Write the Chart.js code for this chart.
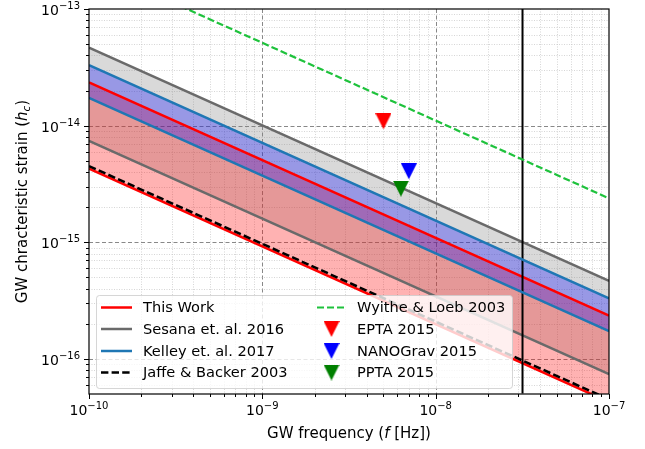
<!DOCTYPE html>
<html>
<head>
<meta charset="utf-8">
<script src="https://cdn.jsdelivr.net/npm/chart.js@4.4.0/dist/chart.umd.min.js"></script>
<style>
  html, body { margin: 0; padding: 0; background: #fff; }
  canvas { display: block; }
</style>
</head>
<body>
<canvas id="gw-strain" width="645" height="449"></canvas>
<script>
// axis limits and tick decades
var xRange = [1e-10, 1e-7];
var yRange = [5.04e-17, 1e-13];
var xTickExps = [-10, -9, -8, -7];
var yTickExps = [-16, -15, -14, -13];

// every curve is h_c ~ f^(-2/3), given at the two ends of the band
var freqEnds = [1e-10, 1e-7];
var thisWorkHigh = [2.35e-14, 2.35e-16];
var thisWorkLow = [4.27e-15, 4.27e-17];
var kelleyHigh = [3.3e-14, 3.3e-16];
var kelleyLow = [1.73e-14, 1.73e-16];
var sesanaHigh = [4.66e-14, 4.66e-16];
var sesanaLow = [7.4e-15, 7.4e-17];
var jaffeBacker = [4.5e-15, 4.5e-17];
var wyitheLoeb = [2.38e-13, 2.38e-15];

// PTA upper limits
var ptaNames = ['EPTA 2015', 'NANOGrav 2015', 'PPTA 2015'];
var ptaFreq = [5.0e-9, 7.0e-9, 6.3e-9];
var ptaStrain = [1.09e-14, 4.06e-15, 2.88e-15];
var ptaColors = ['#ff0000', '#0000ff', '#008000'];

var oneYearFreq = 3.17e-8;

var legendCols = [
    ['This Work', 'Sesana et. al. 2016', 'Kelley et. al. 2017', 'Jaffe & Backer 2003'],
    ['Wyithe & Loeb 2003', 'EPTA 2015', 'NANOGrav 2015', 'PPTA 2015']
];

var FONT = '"DejaVu Sans", "Liberation Sans", sans-serif';

function pairs(ys) {
    return freqEnds.map(function (f, i) { return {x: f, y: ys[i]}; });
}

function triangle(color) {
    var c = document.createElement('canvas');
    c.width = 16;
    c.height = 16;
    var g = c.getContext('2d');
    g.fillStyle = color;
    g.beginPath();
    g.moveTo(0, 0);
    g.lineTo(16, 0);
    g.lineTo(8, 16);
    g.closePath();
    g.fill();
    return c;
}

function lineSet(label, ys, color, order, extra) {
    var ds = {
        label: label,
        data: pairs(ys),
        borderColor: color,
        borderWidth: 2.5,
        pointRadius: 0,
        fill: false,
        order: order
    };
    for (var k in extra) ds[k] = extra[k];
    return ds;
}

var datasets = [
    lineSet('This Work', thisWorkHigh, '#ff0000', 1),
    lineSet('', thisWorkLow, '#ff0000', 1, {fill: 0, backgroundColor: 'rgba(255,0,0,0.3)'}),
    lineSet('Kelley et. al. 2017', kelleyHigh, '#1f77b4', 0),
    lineSet('', kelleyLow, '#1f77b4', 0, {fill: 2, backgroundColor: 'rgba(0,0,255,0.3)'}),
    lineSet('Sesana et. al. 2016', sesanaHigh, '#6a6a6a', 2),
    lineSet('', sesanaLow, '#6a6a6a', 2, {fill: 4, backgroundColor: 'rgba(128,128,128,0.3)'}),
    lineSet('Jaffe & Backer 2003', jaffeBacker, '#000000', 0, {borderDash: [7.4, 3.2]}),
    lineSet('Wyithe & Loeb 2003', wyitheLoeb, '#1ec23c', 0, {borderDash: [7, 3], borderWidth: 2.2}),
    {
        label: '',
        data: [{x: oneYearFreq, y: yRange[0]}, {x: oneYearFreq, y: yRange[1]}],
        borderColor: '#000000',
        borderWidth: 2,
        pointRadius: 0,
        fill: false,
        order: 0
    }
];

ptaNames.forEach(function (name, i) {
    datasets.push({
        label: name,
        data: [{x: ptaFreq[i], y: ptaStrain[i]}],
        showLine: false,
        pointStyle: triangle(ptaColors[i]),
        pointRadius: 8,
        borderColor: ptaColors[i],
        backgroundColor: ptaColors[i],
        order: -1
    });
});

function drawPower(ctx, exp, x, y, align) {
    var base = '10';
    var sup = '\u2212' + Math.abs(exp);
    ctx.font = '14px ' + FONT;
    var wb = ctx.measureText(base).width;
    ctx.font = '10px ' + FONT;
    var ws = ctx.measureText(sup).width;
    var left = align === 'right' ? x - wb - ws : x - (wb + ws) / 2;
    ctx.textAlign = 'left';
    ctx.textBaseline = 'alphabetic';
    ctx.font = '14px ' + FONT;
    ctx.fillText(base, left, y);
    ctx.font = '10px ' + FONT;
    ctx.fillText(sup, left + wb, y - 6);
}

// runs of text with their own font and vertical shift, centred on x
function drawRuns(ctx, runs, x, y) {
    var total = 0;
    runs.forEach(function (r) {
        ctx.font = r.font;
        r.w = ctx.measureText(r.text).width;
        total += r.w;
    });
    var cx = x - total / 2;
    ctx.textAlign = 'left';
    ctx.textBaseline = 'alphabetic';
    runs.forEach(function (r) {
        ctx.font = r.font;
        ctx.fillText(r.text, cx, y + (r.dy || 0));
        cx += r.w;
    });
}

function minorValues(exps, range) {
    var out = [];
    for (var e = exps[0] - 1; e <= exps[exps.length - 1]; e++) {
        for (var m = 1; m < 10; m++) {
            var v = m * Math.pow(10, e);
            if (v >= range[0] * 0.999 && v <= range[1] * 1.001) out.push({v: v, major: m === 1});
        }
    }
    return out;
}

var axesPlugin = {
    id: 'mplAxes',
    beforeDraw: function (chart) {
        var ctx = chart.ctx, a = chart.chartArea;
        var xs = chart.scales.x, ys = chart.scales.y;
        ctx.save();
        minorValues(xTickExps, xRange).forEach(function (t) {
            var px = Math.round(xs.getPixelForValue(t.v)) + 0.5;
            if (px < a.left + 1 || px > a.right - 1) return;
            ctx.beginPath();
            ctx.lineWidth = t.major ? 1 : 0.7;
            ctx.strokeStyle = t.major ? '#888888' : '#c4c4c4';
            ctx.setLineDash(t.major ? [4, 2.5] : [1, 1.5]);
            ctx.moveTo(px, a.top);
            ctx.lineTo(px, a.bottom);
            ctx.stroke();
        });
        minorValues(yTickExps, yRange).forEach(function (t) {
            var py = Math.round(ys.getPixelForValue(t.v)) + 0.5;
            if (py < a.top + 1 || py > a.bottom - 1) return;
            ctx.beginPath();
            ctx.lineWidth = t.major ? 1 : 0.7;
            ctx.strokeStyle = t.major ? '#888888' : '#c4c4c4';
            ctx.setLineDash(t.major ? [4, 2.5] : [1, 1.5]);
            ctx.moveTo(a.left, py);
            ctx.lineTo(a.right, py);
            ctx.stroke();
        });
        ctx.restore();
    },
    afterDraw: function (chart) {
        var ctx = chart.ctx, a = chart.chartArea;
        var xs = chart.scales.x, ys = chart.scales.y;
        ctx.save();
        ctx.setLineDash([]);
        ctx.strokeStyle = '#000';
        ctx.lineWidth = 1.2;
        ctx.strokeRect(a.left, a.top, a.right - a.left, a.bottom - a.top);

        // tick marks
        ctx.lineWidth = 1;
        minorValues(xTickExps, xRange).forEach(function (t) {
            var px = Math.round(xs.getPixelForValue(t.v)) + 0.5;
            ctx.beginPath();
            ctx.moveTo(px, a.bottom);
            ctx.lineTo(px, a.bottom + (t.major ? 5 : 3));
            ctx.stroke();
        });
        minorValues(yTickExps, yRange).forEach(function (t) {
            var py = Math.round(ys.getPixelForValue(t.v)) + 0.5;
            ctx.beginPath();
            ctx.moveTo(a.left, py);
            ctx.lineTo(a.left - (t.major ? 5 : 3), py);
            ctx.stroke();
        });

        // tick labels
        ctx.fillStyle = '#000';
        xTickExps.forEach(function (e) {
            drawPower(ctx, e, xs.getPixelForValue(Math.pow(10, e)), 415, 'center');
        });
        yTickExps.forEach(function (e) {
            drawPower(ctx, e, a.left - 9, ys.getPixelForValue(Math.pow(10, e)) + 6, 'right');
        });

        // axis titles
        var nf = '15px ' + FONT, itf = 'italic 15px ' + FONT;
        drawRuns(ctx, [
            {text: 'GW frequency (', font: nf},
            {text: 'f', font: itf},
            {text: ' [Hz])', font: nf}
        ], (a.left + a.right) / 2, 438);
        ctx.save();
        ctx.translate(27, (a.top + a.bottom) / 2);
        ctx.rotate(-Math.PI / 2);
        drawRuns(ctx, [
            {text: 'GW chracteristic strain (', font: nf},
            {text: 'h', font: itf},
            {text: 'c', font: 'italic 10.5px ' + FONT, dy: 3},
            {text: ')', font: nf}
        ], 0, 0);
        ctx.restore();

        // legend
        var bx = 96.5, by = 295.5, bw = 416, bh = 93, r = 3;
        ctx.beginPath();
        ctx.moveTo(bx + r, by);
        ctx.arcTo(bx + bw, by, bx + bw, by + bh, r);
        ctx.arcTo(bx + bw, by + bh, bx, by + bh, r);
        ctx.arcTo(bx, by + bh, bx, by, r);
        ctx.arcTo(bx, by, bx + bw, by, r);
        ctx.closePath();
        ctx.fillStyle = 'rgba(255,255,255,0.8)';
        ctx.fill();
        ctx.strokeStyle = 'rgba(204,204,204,0.8)';
        ctx.lineWidth = 1;
        ctx.stroke();

        var rows = [307.5, 329, 351, 372.5];
        var cols = [{h0: 101, h1: 132, tx: 143}, {h0: 317, h1: 346, tx: 357}];
        legendCols.forEach(function (names, ci) {
            var col = cols[ci];
            names.forEach(function (name, ri) {
                var ds = chart.data.datasets.filter(function (d) { return d.label === name; })[0];
                var y = rows[ri];
                if (ds.showLine === false) {
                    var img = ds.pointStyle;
                    ctx.drawImage(img, (col.h0 + col.h1) / 2 - img.width / 2, y - img.height / 2);
                } else {
                    ctx.beginPath();
                    ctx.setLineDash(ds.borderDash || []);
                    ctx.strokeStyle = ds.borderColor;
                    ctx.lineWidth = ds.borderWidth;
                    ctx.moveTo(col.h0, y);
                    ctx.lineTo(col.h1, y);
                    ctx.stroke();
                    ctx.setLineDash([]);
                }
                ctx.fillStyle = '#000';
                ctx.font = '14.6px ' + FONT;
                ctx.textAlign = 'left';
                ctx.textBaseline = 'middle';
                ctx.fillText(name, col.tx, y + 1);
            });
        });
        ctx.restore();
    }
};

var canvas = document.getElementById('gw-strain');
var strainChart = new Chart(canvas.getContext('2d'), {
    type: 'line',
    data: {datasets: datasets},
    options: {
        responsive: false,
        animation: false,
        devicePixelRatio: 1,
        layout: {padding: {left: 89, right: 36, top: 7, bottom: 55}},
        scales: {
            x: {type: 'logarithmic', min: xRange[0], max: xRange[1], display: false},
            y: {type: 'logarithmic', min: yRange[0], max: yRange[1], display: false}
        },
        plugins: {
            legend: {display: false},
            tooltip: {enabled: false},
            filler: {drawTime: 'beforeDatasetsDraw'}
        }
    },
    plugins: [axesPlugin]
});
</script>
</body>
</html>
